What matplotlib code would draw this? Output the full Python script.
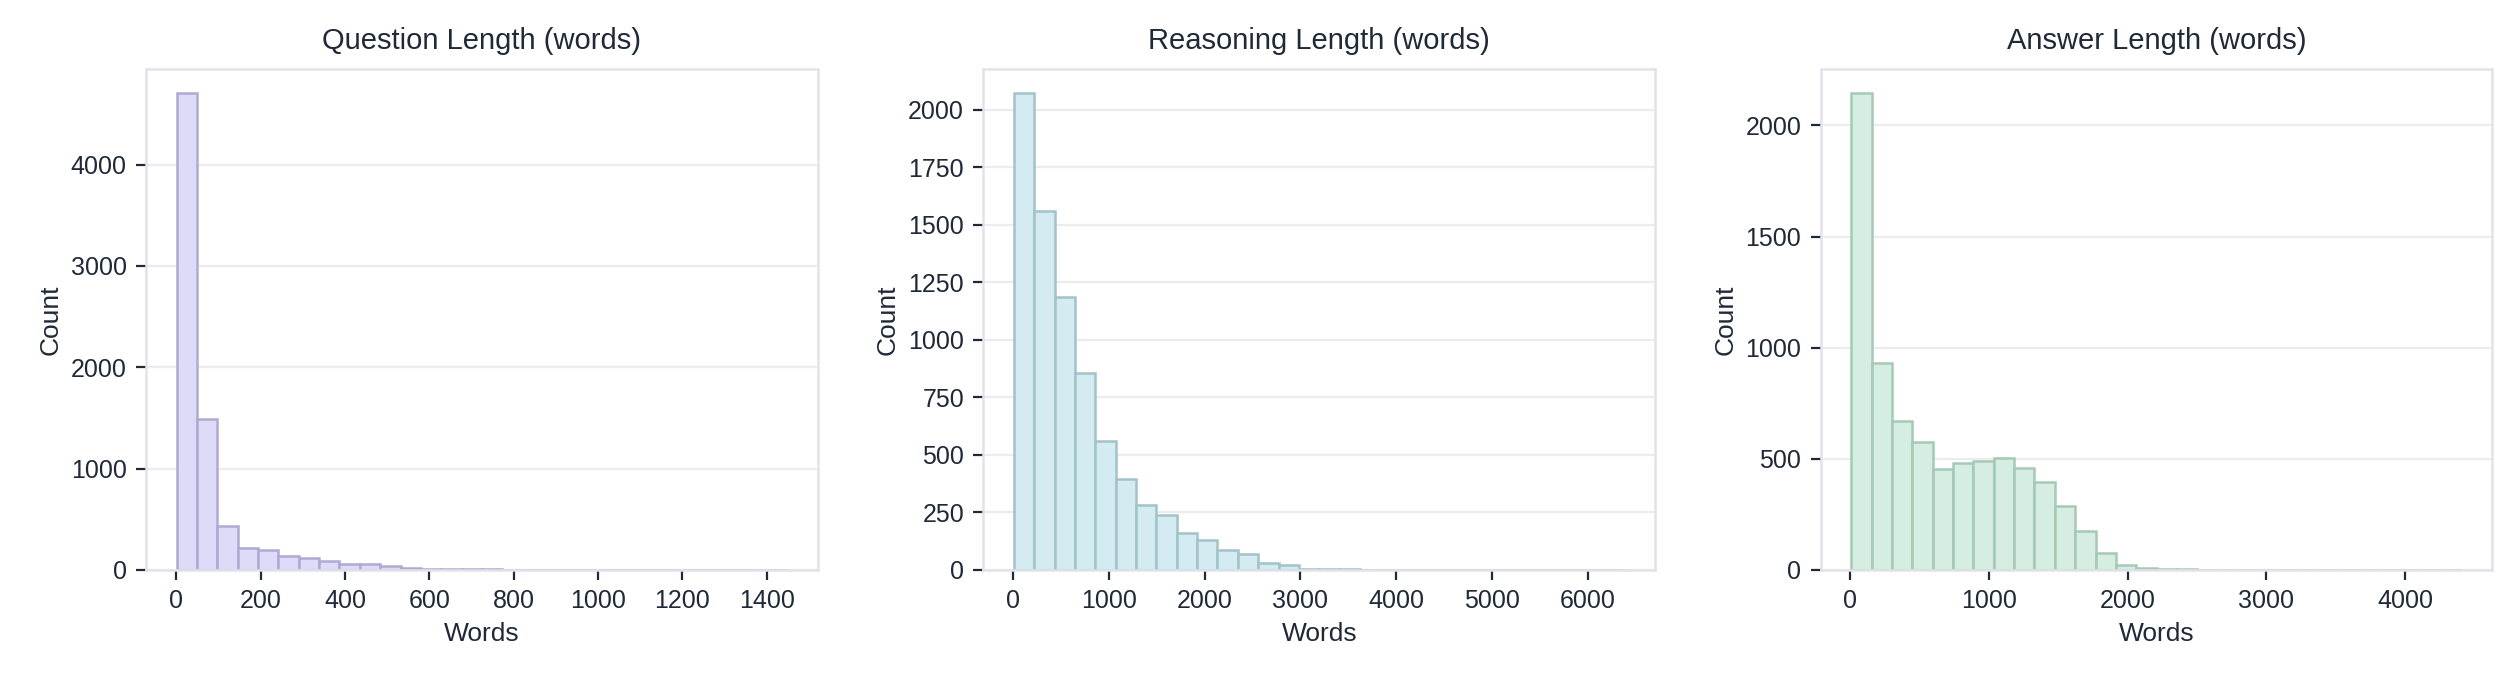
import numpy as np
import matplotlib
matplotlib.use("Agg")
import matplotlib.pyplot as plt

# histogram counts (30 bins each)
q_range = (1, 1448)
q_counts = [4711, 1484, 437, 220, 200, 132, 112, 86, 56, 53, 33, 20, 8, 8, 6,
            4, 3, 2, 2, 1, 1, 1, 0, 1, 0, 0, 1, 0, 0, 1]

r_range = (10, 6385)
r_counts = [2075, 1562, 1184, 855, 558, 393, 280, 239, 159, 128, 88, 67, 29, 20, 4,
            3, 2, 1, 1, 0, 1, 0, 0, 0, 0, 0, 0, 0, 0, 1]

a_range = (6, 4410)
a_counts = [2148, 929, 669, 575, 456, 479, 491, 503, 458, 395, 287, 174, 75, 21, 8,
            3, 2, 1, 1, 0, 0, 1, 0, 0, 0, 0, 0, 0, 0, 1]

titles = ["Question Length (words)", "Reasoning Length (words)", "Answer Length (words)"]
fills = ["#dddbf7", "#d4ecf1", "#d6eee2"]
edges = ["#aeaad3", "#a2c3c8", "#a6c9b6"]

text_col = "#1f2937"
plt.rcParams["font.family"] = ["Liberation Sans", "DejaVu Sans"]
plt.rcParams["text.color"] = text_col
plt.rcParams["axes.labelcolor"] = text_col
plt.rcParams["xtick.color"] = text_col
plt.rcParams["ytick.color"] = text_col

fig, axes = plt.subplots(1, 3, figsize=(12.6, 3.4), dpi=200)
fig.subplots_adjust(left=0.058, right=0.989, bottom=0.162, top=0.899, wspace=0.247)

data = [(q_range, q_counts), (r_range, r_counts), (a_range, a_counts)]
for i, ax in enumerate(axes):
    (lo, hi), counts = data[i]
    bin_edges = np.linspace(lo, hi, len(counts) + 1)
    centers = (bin_edges[:-1] + bin_edges[1:]) / 2
    ax.hist(centers, bins=bin_edges, weights=counts, color=fills[i],
            edgecolor=edges[i], linewidth=0.9, zorder=2)
    ax.set_title(titles[i], fontsize=10.5, pad=7)
    ax.set_xlabel("Words", fontsize=9.5, labelpad=3)
    ax.set_ylabel("Count", fontsize=9.5, labelpad=3)
    ax.tick_params(labelsize=9, length=3.5, width=0.8)
    ax.grid(axis="y", color="#ebebf0", linewidth=0.8, zorder=0)
    ax.set_axisbelow(True)
    for s in ax.spines.values():
        s.set_color("#e2e2ea")
        s.set_linewidth(0.9)

fig.savefig("out.png", dpi=200, facecolor="white")
